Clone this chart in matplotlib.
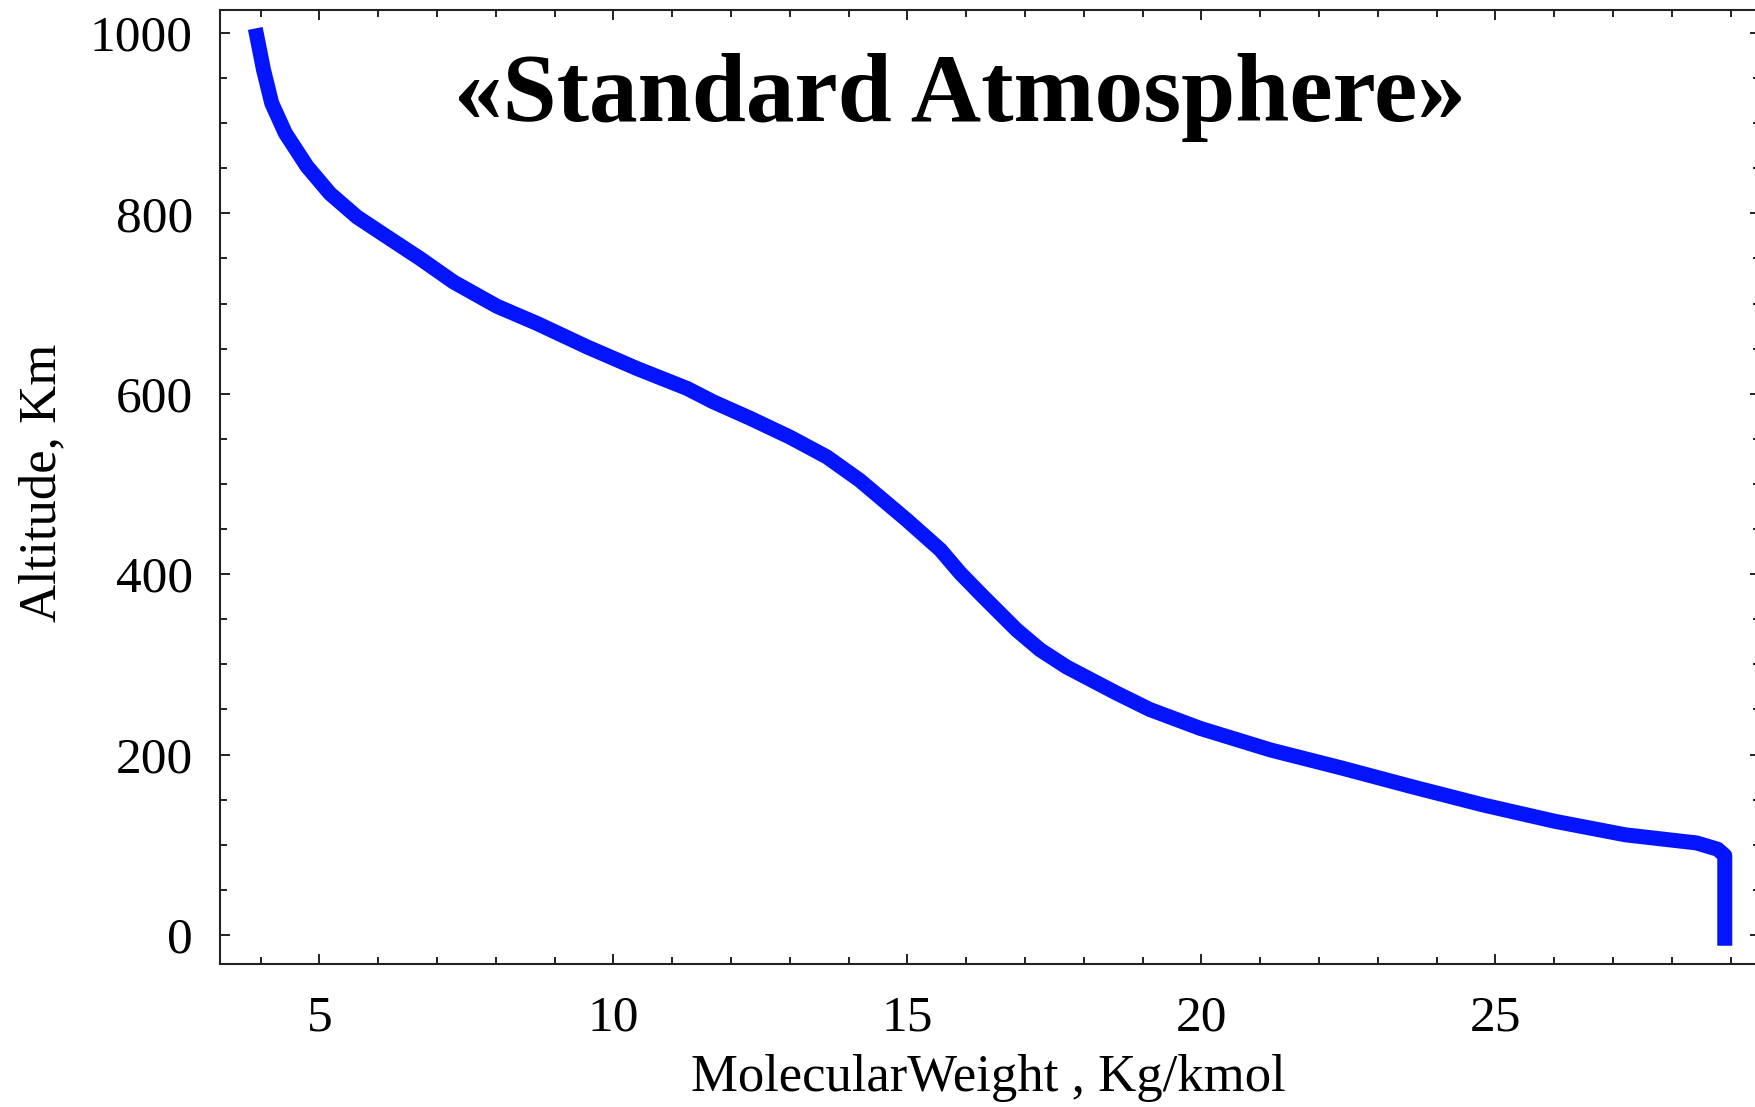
import numpy as np
import matplotlib
matplotlib.use('Agg')
import matplotlib.pyplot as plt
from matplotlib.ticker import MultipleLocator

# values: molecular weight [kg/kmol] vs altitude [km]
MolWeight = [3.91, 4.05, 4.19, 4.42, 4.79, 5.18, 5.64, 6.15, 6.71, 7.28, 8.02,
             8.70, 9.55, 10.40, 11.25, 11.70, 12.32, 13.00, 13.63, 14.19, 14.59,
             14.99, 15.56, 15.90, 16.29, 16.86, 17.26, 17.71, 18.56, 19.12,
             19.98, 21.18, 22.39, 23.60, 24.80, 26.01, 27.21, 28.42, 28.78,
             28.90, 28.90]
Altitude = [1005, 959, 922, 889, 852, 822, 796, 774, 750, 724, 697,
            678, 652, 628, 606, 591, 573, 552, 530, 504, 482,
            460, 427, 401, 375, 338, 316, 297, 268, 250,
            229, 205, 185, 164, 144, 126, 111, 102, 95,
            88, -12]

xticks = [5, 10, 15, 20, 25]
yticks = [0, 200, 400, 600, 800, 1000]

plt.rcParams['font.family'] = ['Liberation Serif', 'DejaVu Serif']

fig = plt.figure(figsize=(17.56, 11.07), dpi=100)
ax = fig.add_axes([0.1253, 0.1292, 0.877, 0.8622])

ax.plot(MolWeight, Altitude, color='#0514ff', lw=10.8, solid_capstyle='butt',
        solid_joinstyle='round')

ax.set_xlim(3.31, 29.5)
ax.set_ylim(-32.2, 1026)
ax.set_xticks(xticks)
ax.set_yticks(yticks)
ax.xaxis.set_minor_locator(MultipleLocator(1))
ax.yaxis.set_minor_locator(MultipleLocator(50))

ax.tick_params(which='both', direction='in', top=True, right=True, width=1.4,
               color='#222222')
ax.tick_params(which='major', length=7.2, labelsize=37)
ax.tick_params(axis='y', which='major', pad=19.5)
ax.tick_params(axis='x', which='major', pad=22)
ax.tick_params(which='minor', length=5)
for s in ax.spines.values():
    s.set_linewidth(1.5)
    s.set_color('#222222')

ax.set_xlabel('MolecularWeight , Kg/kmol', fontsize=38, va='center')
ax.xaxis.set_label_coords(0.4987, -0.1194)
ax.set_ylabel('Altitude, Km', fontsize=38, va='center')
ax.yaxis.set_label_coords(-0.1156, 0.504)

fig.text(0.5467, 1 - 121 / 1107, '\u00abStandard Atmosphere\u00bb', fontsize=70,
         fontweight='bold', ha='center', va='baseline')

fig.savefig('out.png', dpi=100)
